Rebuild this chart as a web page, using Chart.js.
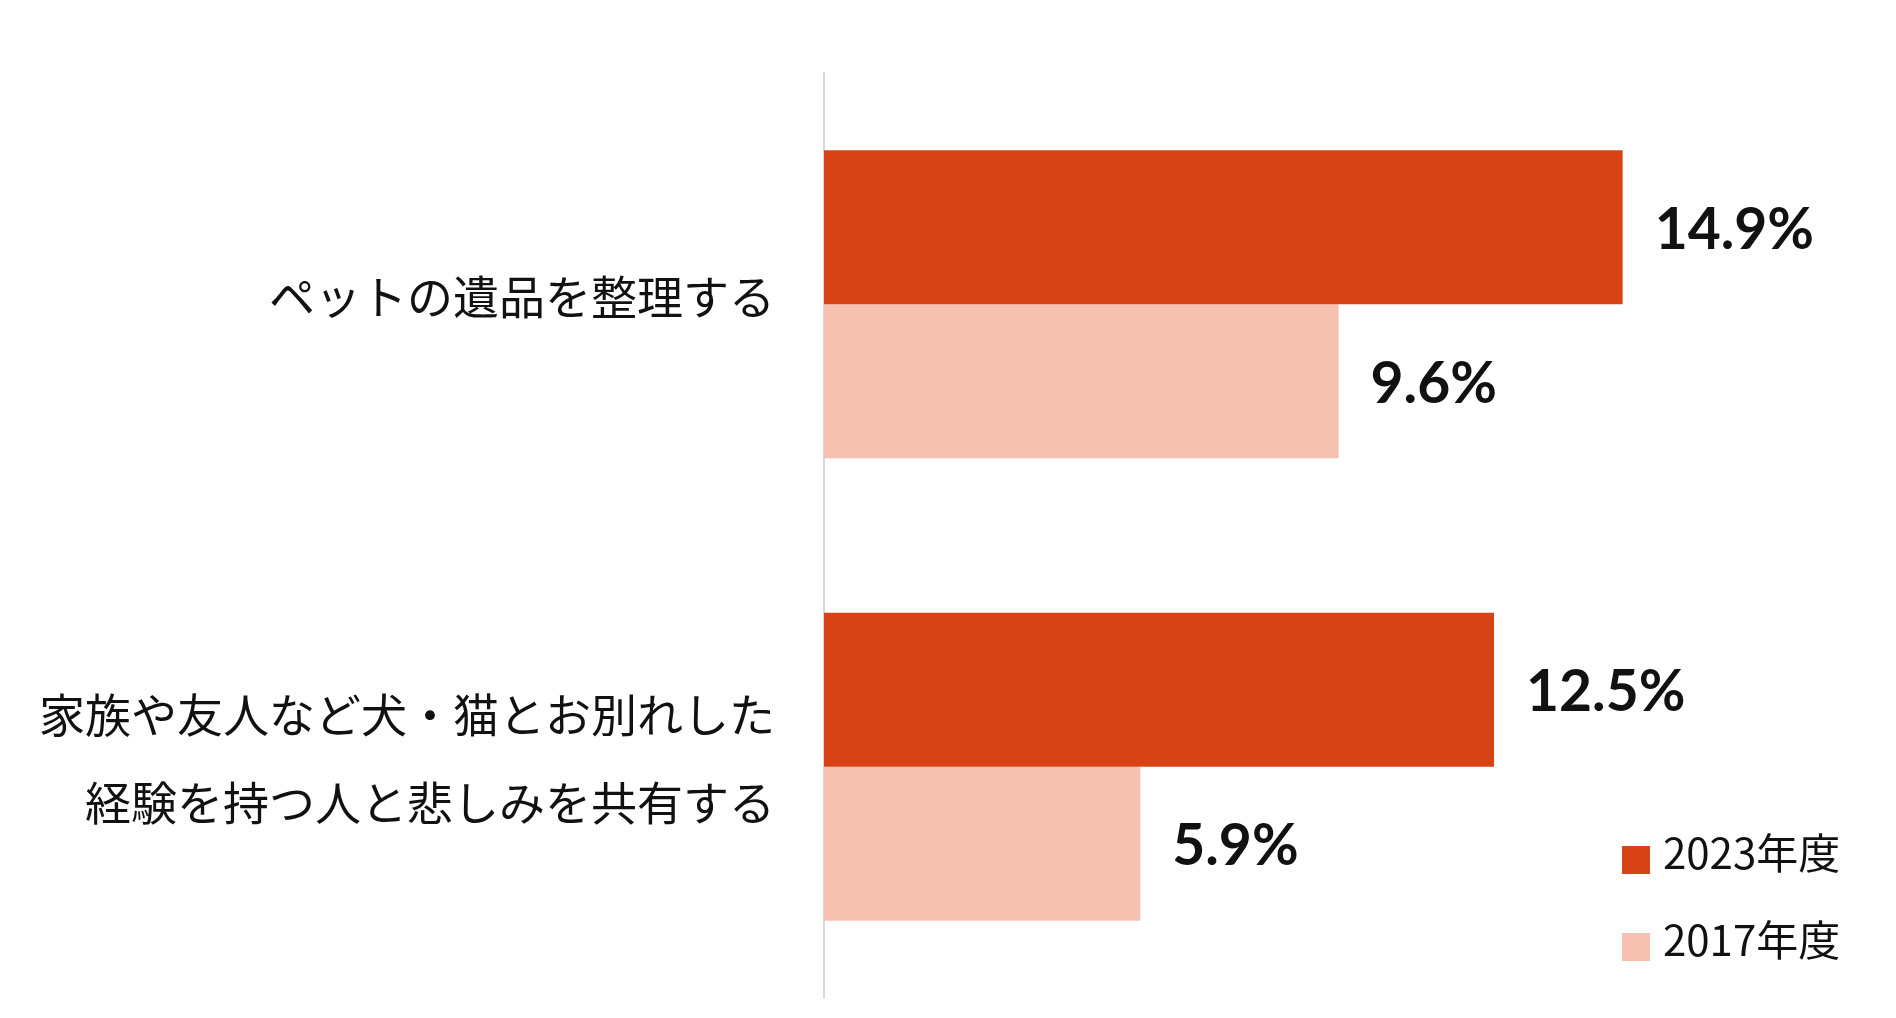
<!DOCTYPE html>
<html>
<head>
<meta charset="utf-8">
<script src="https://cdn.jsdelivr.net/npm/chart.js@4.4.1/dist/chart.umd.min.js"></script>
<style>
html,body{margin:0;padding:0;background:#fff;}
#wrap{width:1896px;height:1018px;position:relative;}
</style>
</head>
<body>
<div id="wrap"><canvas id="c"></canvas></div>
<script>
const categories = [
  ['ペットの遺品を整理する'],
  ['家族や友人など犬・猫とお別れした', '経験を持つ人と悲しみを共有する']
];
const seriesLabels = ['2023年度', '2017年度'];
const values2023 = [14.9, 12.5];
const values2017 = [9.6, 5.9];
const colors = ['#D84315', '#F6C1B0'];

const JP_FONT = '"Noto Sans CJK JP", "Noto Sans", sans-serif';

const valueLabels = {
  id: 'valueLabels',
  afterDatasetsDraw(chart) {
    const ctx = chart.ctx;
    ctx.save();
    ctx.font = 'bold 57px Lato, "Open Sans", sans-serif';
    ctx.fillStyle = '#111';
    ctx.textAlign = 'left';
    ctx.textBaseline = 'middle';
    chart.data.datasets.forEach((ds, i) => {
      const meta = chart.getDatasetMeta(i);
      meta.data.forEach((el, j) => {
        ctx.fillText(ds.data[j].toFixed(1) + '%', el.x + 32, el.y + 3);
      });
    });
    ctx.restore();
  }
};

const cornerLegend = {
  id: 'cornerLegend',
  afterDraw(chart) {
    const ctx = chart.ctx;
    ctx.save();
    ctx.font = '42px ' + JP_FONT;
    ctx.textAlign = 'left';
    ctx.textBaseline = 'middle';
    const x0 = 1622, size = 28, yStart = 860, step = 87;
    chart.data.datasets.forEach((ds, i) => {
      const cy = yStart + i * step;
      ctx.fillStyle = ds.backgroundColor;
      ctx.fillRect(x0, cy - size / 2, size, size);
      ctx.fillStyle = '#111';
      ctx.fillText(ds.label, x0 + 41, cy - 7);
    });
    ctx.restore();
  }
};

new Chart(document.getElementById('c'), {
  type: 'bar',
  data: {
    labels: categories,
    datasets: [
      { label: seriesLabels[0], data: values2023, backgroundColor: colors[0] },
      { label: seriesLabels[1], data: values2017, backgroundColor: colors[1] }
    ]
  },
  options: {
    indexAxis: 'y',
    responsive: true,
    maintainAspectRatio: false,
    animation: false,
    devicePixelRatio: 1,
    layout: { padding: { top: 73, bottom: 20, left: 0, right: 0 } },
    datasets: { bar: { categoryPercentage: 0.666, barPercentage: 1.0 } },
    plugins: {
      legend: { display: false },
      tooltip: { enabled: false }
    },
    scales: {
      x: {
        display: false,
        min: 0,
        max: 20
      },
      y: {
        grid: { display: false, drawTicks: false },
        border: { display: true, color: '#D9D9D9', width: 2 },
        ticks: {
          padding: 49,
          labelOffset: -8,
          color: '#111',
          font: { family: JP_FONT, size: 46, lineHeight: 1.91 }
        },
        afterFit(scale) {
          scale.width = 824;
          scale.paddingTop = 0;
          scale.paddingBottom = 0;
        }
      }
    }
  },
  plugins: [valueLabels, cornerLegend]
});
</script>
</body>
</html>
